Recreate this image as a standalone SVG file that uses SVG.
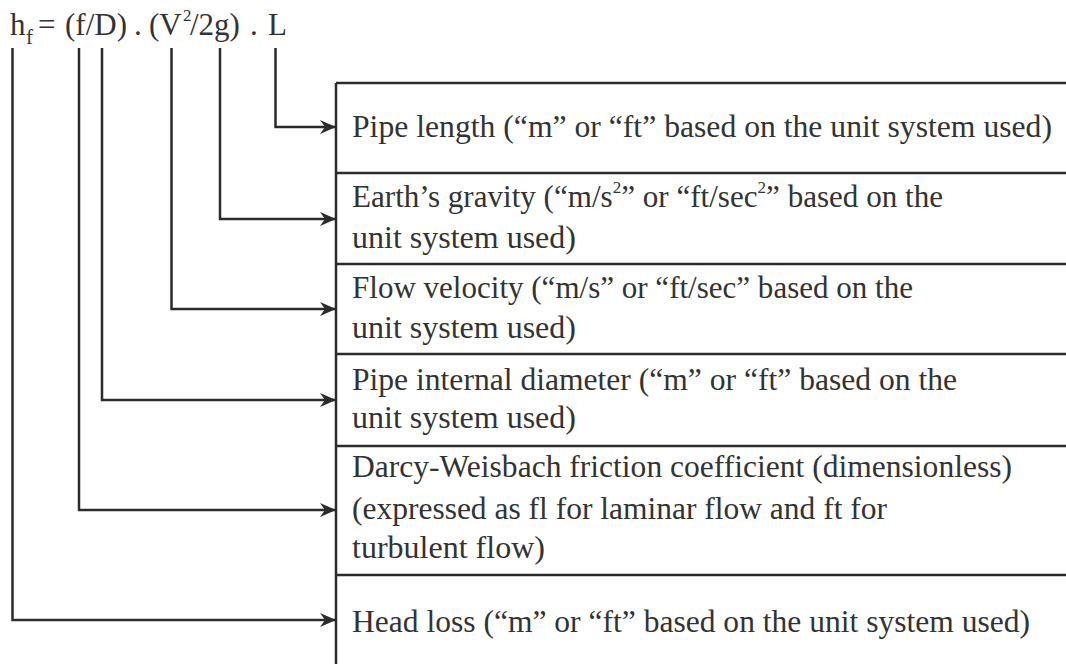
<svg xmlns="http://www.w3.org/2000/svg" width="1066" height="664" viewBox="0 0 1066 664">
<style>
.t{font-family:"Liberation Serif","Times New Roman",serif;font-size:31px;fill:#333}
.s{font-size:17px}
.ln{stroke:#2b2b2b;stroke-width:2.5;fill:none}
.c{stroke:#2b2b2b;stroke-width:2.5;fill:none;marker-end:url(#ah)}
</style>
<defs>
<marker id="ah" markerUnits="userSpaceOnUse" markerWidth="17" markerHeight="14" refX="16" refY="7" orient="auto" viewBox="0 0 17 14">
<path d="M0,0 L16,7 L0,14 L5,7 Z" fill="#2b2b2b"/>
</marker>
</defs>
<rect width="1066" height="664" fill="#fff"/>
<g id="formula">
<text class="t"><tspan x="10" y="35">h</tspan><tspan x="26" y="44" style="font-size:21px">f</tspan><tspan x="38" y="35">=</tspan><tspan x="65" y="35">(f/D)</tspan><tspan x="134" y="35">.</tspan><tspan x="149" y="35">(V</tspan><tspan class="s" x="183" y="21">2</tspan><tspan x="190" y="35">/2g)</tspan><tspan x="250" y="35">.</tspan><tspan x="268" y="35">L</tspan></text>
</g>
<g id="table">
<path class="ln" d="M336,83 V664 M336,83 H1066 M336,173 H1066 M336,264 H1066 M336,354 H1066 M336,446 H1066 M336,575 H1066"/>
</g>
<g id="connectors">
<path class="c" d="M275.5,48 V127 H336"/>
<path class="c" d="M220,48 V219 H336"/>
<path class="c" d="M171.5,48 V309 H336"/>
<path class="c" d="M102,48 V400 H336"/>
<path class="c" d="M79,48 V510 H336"/>
<path class="c" d="M12.5,48 V620 H336"/>
</g>
<g id="n-length">
<text class="t" x="352" y="137" textLength="700" lengthAdjust="spacingAndGlyphs">Pipe length (“m” or “ft” based on the unit system used)</text>
</g>
<g id="n-gravity">
<text class="t" x="352" y="207" textLength="591" lengthAdjust="spacingAndGlyphs">Earth’s gravity (“m/s<tspan class="s" dy="-14">2</tspan><tspan dy="14">” or “ft/sec</tspan><tspan class="s" dy="-14">2</tspan><tspan dy="14">” based on the</tspan></text>
<text class="t" x="352" y="248" textLength="224" lengthAdjust="spacingAndGlyphs">unit system used)</text>
</g>
<g id="n-velocity">
<text class="t" x="352" y="298" textLength="561" lengthAdjust="spacingAndGlyphs">Flow velocity (“m/s” or “ft/sec” based on the</text>
<text class="t" x="352" y="338" textLength="224" lengthAdjust="spacingAndGlyphs">unit system used)</text>
</g>
<g id="n-diameter">
<text class="t" x="352" y="390" textLength="605" lengthAdjust="spacingAndGlyphs">Pipe internal diameter (“m” or “ft” based on the</text>
<text class="t" x="352" y="428" textLength="224" lengthAdjust="spacingAndGlyphs">unit system used)</text>
</g>
<g id="n-friction">
<text class="t" x="352" y="477" textLength="660" lengthAdjust="spacingAndGlyphs">Darcy-Weisbach friction coefficient (dimensionless)</text>
<text class="t" x="352" y="519" textLength="535" lengthAdjust="spacingAndGlyphs">(expressed as fl for laminar flow and ft for</text>
<text class="t" x="352" y="558" textLength="193" lengthAdjust="spacingAndGlyphs">turbulent flow)</text>
</g>
<g id="n-headloss">
<text class="t" x="352" y="632" textLength="678" lengthAdjust="spacingAndGlyphs">Head loss (“m” or “ft” based on the unit system used)</text>
</g>
</svg>
